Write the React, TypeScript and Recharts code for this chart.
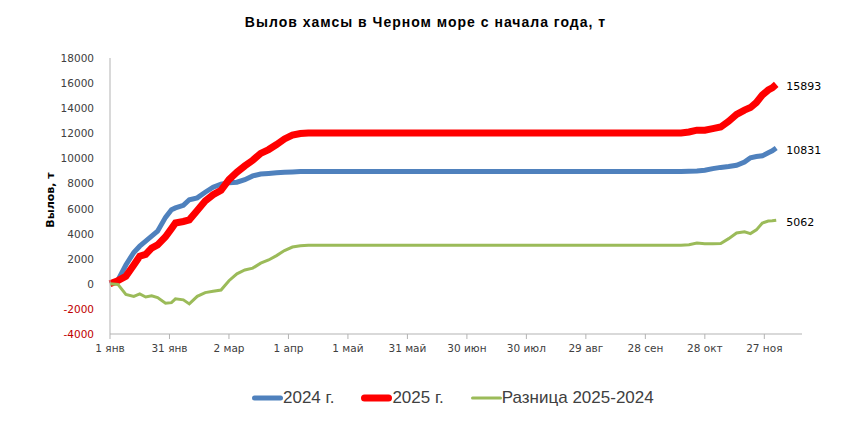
import React from 'react';
import { LineChart, Line, XAxis, YAxis } from 'recharts';

// day of year (0 = 1 янв)
const days = [0, 4, 8, 12, 15, 18, 21, 24, 28, 31, 33, 37, 40, 44, 48, 52, 56, 60, 64, 68, 72, 76, 80, 84, 88, 92, 96, 100, 150, 200, 250, 288, 292, 296, 300, 304, 308, 312, 316, 320, 323, 326, 329, 332, 334, 336];
const catch2024 = [0, 300, 1500, 2500, 3000, 3400, 3800, 4200, 5300, 5900, 6050, 6250, 6700, 6850, 7300, 7700, 7950, 8050, 8100, 8300, 8600, 8750, 8800, 8850, 8900, 8920, 8950, 8950, 8950, 8950, 8950, 8950, 8980, 9000, 9050, 9180, 9280, 9350, 9450, 9700, 10050, 10150, 10200, 10450, 10600, 10831];
const catch2025 = [0, 250, 600, 1500, 2200, 2350, 2850, 3100, 3750, 4400, 4850, 4970, 5100, 5850, 6600, 7100, 7450, 8300, 8900, 9400, 9850, 10400, 10700, 11100, 11550, 11850, 11980, 12030, 12030, 12030, 12030, 12030, 12100, 12250, 12250, 12370, 12500, 12950, 13500, 13850, 14050, 14450, 15050, 15450, 15620, 15893];
const diff = [0, -50, -850, -1000, -800, -1050, -950, -1100, -1550, -1500, -1200, -1280, -1600, -1000, -700, -600, -500, 250, 800, 1100, 1250, 1650, 1900, 2250, 2650, 2930, 3030, 3080, 3080, 3080, 3080, 3080, 3120, 3250, 3200, 3190, 3220, 3600, 4050, 4150, 4000, 4300, 4850, 5000, 5020, 5062];

const xTicks = [0, 30, 60, 90, 120, 150, 180, 210, 240, 270, 300, 330];
const xLabels = ['1 янв', '31 янв', '2 мар', '1 апр', '1 май', '31 май', '30 июн', '30 июл', '29 авг', '28 сен', '28 окт', '27 ноя'];
const yTicks = [-4000, -2000, 0, 2000, 4000, 6000, 8000, 10000, 12000, 14000, 16000, 18000];

const data = days.map((d, i) => ({
  day: d,
  y2024: catch2024[i],
  y2025: catch2025[i],
  diff: diff[i],
}));

const last = data.length - 1;
const tickFont = '"DejaVu Sans", sans-serif';

const endLabel = (props: any) => {
  if (props.index !== last) return null;
  return (
    <text x={props.x + 10} y={props.y + 3} fontSize={11} fontFamily={tickFont} fill="#000" dominantBaseline="middle">
      {props.value}
    </text>
  );
};

const YTick = (props: any) => {
  const { x, y, payload } = props;
  return (
    <text x={x} y={y} textAnchor="end" dominantBaseline="central" fontSize={10.5} fontFamily={tickFont} fill={payload.value < 0 ? '#C00000' : '#404040'}>
      {payload.value}
    </text>
  );
};

const legendItems = [
  { name: '2024 г.', color: '#4F81BD', w: 5 },
  { name: '2025 г.', color: '#FF0000', w: 7 },
  { name: 'Разница 2025-2024', color: '#9BBB59', w: 3 },
];

export default function App() {
  return (
    <div style={{ position: 'relative', width: 851, height: 422, margin: -8, background: '#fff', fontFamily: '"Liberation Sans", Arial, sans-serif' }}>
      <div style={{ position: 'absolute', left: 2, top: 0, width: 849, height: 417, borderLeft: '2px solid #d9d9d9', borderTop: '2px solid #d9d9d9', borderBottom: '2px solid #d9d9d9' }} />
      <div style={{ position: 'absolute', left: 0, width: 851, top: 14, textAlign: 'center', fontWeight: 'bold', fontSize: 14, letterSpacing: 1, color: '#000' }}>
        Вылов хамсы в Черном море с начала года, т
      </div>
      <div style={{ position: 'absolute', left: 0, top: 0 }}>
        <LineChart width={851} height={422} data={data} margin={{ top: 58, right: 49, left: 50, bottom: 58 }}>
          <XAxis
            dataKey="day"
            type="number"
            domain={[0, 349]}
            ticks={xTicks}
            tickFormatter={(v: number) => xLabels[xTicks.indexOf(v)]}
            stroke="#b3b3b3"
            tickSize={5}
            tickMargin={6}
            height={30}
            tick={{ fontSize: 10.5, fontFamily: tickFont, fill: '#404040' }}
            interval={0}
          />
          <YAxis
            domain={[-4000, 18000]}
            ticks={yTicks}
            width={60}
            stroke="#b3b3b3"
            tickLine={false}
            tickSize={6}
            tickMargin={10}
            tick={<YTick />}
            interval={0}
            label={{
              content: () => (
                <text x={50} y={200} transform="rotate(-90 50 200)" textAnchor="middle" dominantBaseline="central" fontSize={11} fontWeight="bold" fontFamily={tickFont} fill="#000">
                  Вылов, т
                </text>
              ),
            }}
          />
          <Line type="linear" dataKey="y2024" stroke="#4F81BD" strokeWidth={5} dot={false} isAnimationActive={false} label={endLabel} />
          <Line type="linear" dataKey="y2025" stroke="#FF0000" strokeWidth={7} dot={false} isAnimationActive={false} label={endLabel} />
          <Line type="linear" dataKey="diff" stroke="#9BBB59" strokeWidth={3} dot={false} isAnimationActive={false} label={endLabel} />
        </LineChart>
      </div>
      <div style={{ position: 'absolute', left: 252, top: 387, display: 'flex', alignItems: 'center', fontSize: 17, color: '#404040' }}>
        {legendItems.map((it) => (
          <div key={it.name} style={{ display: 'flex', alignItems: 'center', marginRight: 27 }}>
            <svg width={31} height={10}>
              <line x1={it.w / 2} y1={5} x2={31 - it.w / 2} y2={5} stroke={it.color} strokeWidth={it.w} strokeLinecap="round" />
            </svg>
            <span style={{ lineHeight: '22px' }}>{it.name}</span>
          </div>
        ))}
      </div>
    </div>
  );
}
